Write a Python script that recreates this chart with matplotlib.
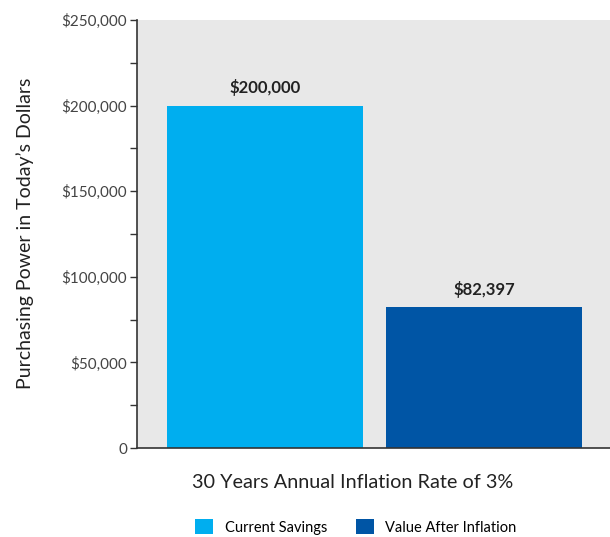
import matplotlib
matplotlib.use("Agg")
import matplotlib.pyplot as plt
from matplotlib.patches import Patch
from matplotlib.ticker import FuncFormatter, MultipleLocator

categories = ["Current Savings", "Value After Inflation"]
values = [200000, 82397]
colors = ["#00AEEF", "#0055A5"]
value_labels = ["$200,000", "$82,397"]
xlabel = "30 Years Annual Inflation Rate of 3%"
ylabel = "Purchasing Power in Today\u2019s Dollars"

plt.rcParams['font.family'] = ['Lato', 'DejaVu Sans']

fig = plt.figure(figsize=(6.1, 5.37), dpi=100)
W, H = 610, 537
ax = fig.add_axes([137 / W, 1 - 448 / H, (610 - 137) / W, (448 - 20) / H])
ax.set_facecolor("#E8E8E8")

x = list(range(len(categories)))
ax.bar(x, values, width=0.893, color=colors, zorder=2)
for xi, v, lab in zip(x, values, value_labels):
    ax.text(xi, v + 5500, lab, ha="center", va="bottom", fontsize=12,
            fontweight="bold", color="#222222")

ax.set_xlim(-0.583, 1.572)
ax.set_ylim(0, 250000)
ax.yaxis.set_major_locator(MultipleLocator(50000))
ax.yaxis.set_minor_locator(MultipleLocator(25000))
ax.yaxis.set_major_formatter(FuncFormatter(lambda v, p: "0" if v == 0 else f"${v:,.0f}"))
ax.tick_params(axis="y", which="both", direction="out", length=5, width=1,
               color="#333333", labelsize=11, labelcolor="#444444", pad=2)
ax.set_xticks([])
for s in ["top", "right"]:
    ax.spines[s].set_visible(False)
ax.spines["left"].set_color("#333333")
ax.spines["bottom"].set_color("#333333")
ax.spines["left"].set_linewidth(1.2)
ax.spines["bottom"].set_linewidth(1.2)

fig.text(25 / W, 1 - 233 / H, ylabel, rotation=90, ha="center", va="center",
         fontsize=14, color="#222222")
fig.text(353 / W, 1 - 483 / H, xlabel, ha="center", va="center",
         fontsize=14.3, color="#222222")

handles = [Patch(facecolor=c, edgecolor="none") for c in colors]
fig.legend(handles, categories, loc="center", bbox_to_anchor=(356 / W, 1 - 527 / H),
           ncol=2, frameon=False, fontsize=10.5, handlelength=1.2, handleheight=1.2,
           columnspacing=2.0, handletextpad=0.8, borderaxespad=0)

fig.savefig("out.png", dpi=100)
